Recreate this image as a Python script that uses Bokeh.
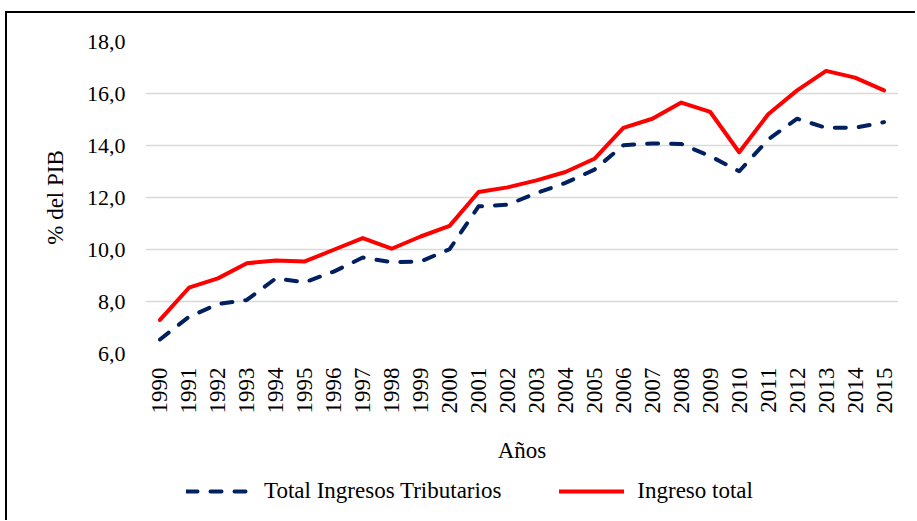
import math
from bokeh.plotting import figure
from bokeh.layouts import column
from bokeh.models import FactorRange, Range1d, FixedTicker, Legend, LegendItem
from bokeh.embed import file_html
from bokeh.resources import INLINE

years = ["1990", "1991", "1992", "1993", "1994", "1995", "1996", "1997", "1998",
         "1999", "2000", "2001", "2002", "2003", "2004", "2005", "2006", "2007",
         "2008", "2009", "2010", "2011", "2012", "2013", "2014", "2015"]
tributarios = [6.54, 7.41, 7.90, 8.06, 8.89, 8.74, 9.15, 9.69, 9.51, 9.54, 10.01,
               11.66, 11.72, 12.17, 12.56, 13.07, 14.01, 14.08, 14.06, 13.59, 13.01,
               14.23, 15.03, 14.68, 14.68, 14.90]
ingreso_total = [7.29, 8.53, 8.89, 9.47, 9.58, 9.54, 9.99, 10.44, 10.03, 10.50, 10.91,
                 12.21, 12.39, 12.66, 12.98, 13.49, 14.68, 15.03, 15.65, 15.29, 13.74,
                 15.20, 16.12, 16.87, 16.61, 16.12]
y_ticks = [6, 8, 10, 12, 14, 16, 18]
y_tick_labels = ["6,0", "8,0", "10,0", "12,0", "14,0", "16,0", "18,0"]
series_labels = ["Total Ingresos Tributarios", "Ingreso total"]

FONT = "Liberation Serif"
TRIB_STYLE = dict(line_color="#002060", line_width=4, line_dash="11 13",
                  line_cap="round", line_join="round")
TOT_STYLE = dict(line_color="#FF0000", line_width=4,
                 line_cap="round", line_join="round")

# ---- main chart ----
p = figure(width=915, height=469, output_backend="svg", toolbar_location=None,
           x_range=FactorRange(*years, range_padding=0),
           y_range=Range1d(6, 18),
           min_border_left=145, min_border_right=17, min_border_top=41,
           min_border_bottom=116)
p.styles = {"background": "linear-gradient(#000, #000) 5px 11px / 2px 100% no-repeat, "
                          "linear-gradient(#000, #000) 5px 11px / 100% 2px no-repeat, #fff"}
p.outline_line_color = None
p.background_fill_color = "white"
p.border_fill_color = None

p.line(years, tributarios, **TRIB_STYLE)
p.line(years, ingreso_total, **TOT_STYLE)

p.xgrid.grid_line_color = None
p.ygrid.grid_line_color = "#D9D9D9"
p.ygrid.grid_line_width = 1.5

p.yaxis.ticker = FixedTicker(ticks=y_ticks)
p.yaxis.major_label_overrides = {t: l for t, l in zip(y_ticks, y_tick_labels)}
for ax in (p.xaxis[0], p.yaxis[0]):
    ax.axis_line_color = None
    ax.major_tick_line_color = None
    ax.minor_tick_line_color = None
    ax.major_label_text_font = FONT
    ax.major_label_text_font_size = "22px"
    ax.major_label_text_color = "black"
    ax.axis_label_text_font = FONT
    ax.axis_label_text_font_size = "23px"
    ax.axis_label_text_font_style = "normal"
    ax.axis_label_text_color = "black"

p.yaxis.axis_label = "% del PIB"
p.yaxis.major_label_standoff = 14
p.yaxis.axis_label_standoff = 16
p.xaxis.axis_label = "Años"
p.xaxis.major_label_text_font_size = "23px"
p.xaxis.major_label_orientation = math.pi / 2
p.xaxis.major_label_standoff = 8
p.xaxis.axis_label_standoff = 21

# ---- legend strip (series drawn outside its visible range, only the legend shows) ----
pl = figure(width=915, height=51, output_backend="svg", toolbar_location=None,
            x_range=FactorRange(*years, range_padding=0), y_range=Range1d(100, 101),
            min_border_left=0, min_border_right=0, min_border_top=0,
            min_border_bottom=0)
pl.styles = {"background": "linear-gradient(#000, #000) 5px 0 / 2px 100% no-repeat, #fff"}
pl.outline_line_color = None
pl.axis.visible = False
pl.grid.grid_line_color = None
pl.border_fill_color = None
pl.background_fill_color = None
lr1 = pl.line(years, tributarios, **TRIB_STYLE)
lr2 = pl.line(years, ingreso_total, **TOT_STYLE)

legend = Legend(items=[LegendItem(label=series_labels[0], renderers=[lr1]),
                       LegendItem(label=series_labels[1], renderers=[lr2])],
                orientation="horizontal", location=(41, 16),
                glyph_width=65, glyph_height=20, label_height=20,
                label_standoff=13, spacing=58, padding=0, margin=0,
                border_line_color=None, background_fill_alpha=0,
                label_text_font=FONT, label_text_font_size="23px",
                label_text_color="black")
pl.add_layout(legend, "center")

layout = column(p, pl, spacing=0)
open("out.html", "w").write(file_html(layout, INLINE))
